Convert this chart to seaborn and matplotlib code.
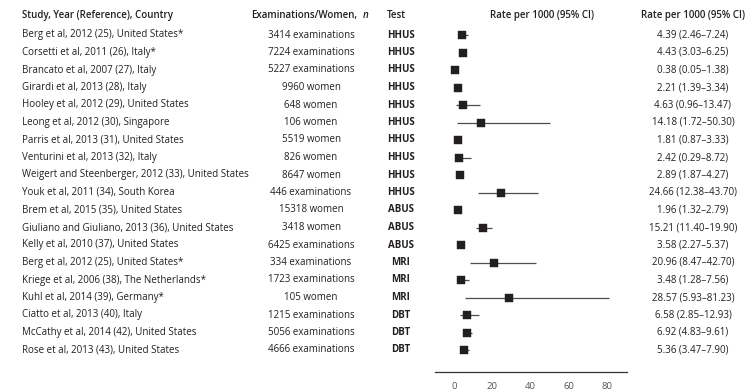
import matplotlib
matplotlib.use("Agg")
import matplotlib.pyplot as plt
import matplotlib.transforms as mtransforms
import numpy as np
import pandas as pd
import seaborn as sns

studies = [
    "Berg et al, 2012 (25), United States*",
    "Corsetti et al, 2011 (26), Italy*",
    "Brancato et al, 2007 (27), Italy",
    "Girardi et al, 2013 (28), Italy",
    "Hooley et al, 2012 (29), United States",
    "Leong et al, 2012 (30), Singapore",
    "Parris et al, 2013 (31), United States",
    "Venturini et al, 2013 (32), Italy",
    "Weigert and Steenberger, 2012 (33), United States",
    "Youk et al, 2011 (34), South Korea",
    "Brem et al, 2015 (35), United States",
    "Giuliano and Giuliano, 2013 (36), United States",
    "Kelly et al, 2010 (37), United States",
    "Berg et al, 2012 (25), United States*",
    "Kriege et al, 2006 (38), The Netherlands*",
    "Kuhl et al, 2014 (39), Germany*",
    "Ciatto et al, 2013 (40), Italy",
    "McCathy et al, 2014 (42), United States",
    "Rose et al, 2013 (43), United States",
]
counts = [
    "3414 examinations", "7224 examinations", "5227 examinations", "9960 women",
    "648 women", "106 women", "5519 women", "826 women", "8647 women",
    "446 examinations", "15318 women", "3418 women", "6425 examinations",
    "334 examinations", "1723 examinations", "105 women", "1215 examinations",
    "5056 examinations", "4666 examinations",
]
tests = ["HHUS"] * 10 + ["ABUS"] * 3 + ["MRI"] * 3 + ["DBT"] * 3
rate = [4.39, 4.43, 0.38, 2.21, 4.63, 14.18, 1.81, 2.42, 2.89, 24.66,
        1.96, 15.21, 3.58, 20.96, 3.48, 28.57, 6.58, 6.92, 5.36]
ci_low = [2.46, 3.03, 0.05, 1.39, 0.96, 1.72, 0.87, 0.29, 1.87, 12.38,
          1.32, 11.40, 2.27, 8.47, 1.28, 5.93, 2.85, 4.83, 3.47]
ci_high = [7.24, 6.25, 1.38, 3.34, 13.47, 50.30, 3.33, 8.72, 4.27, 43.70,
           2.79, 19.90, 5.37, 42.70, 7.56, 81.23, 12.93, 9.61, 7.90]
x_ticks = [0, 20, 40, 60, 80]

df = pd.DataFrame({"study": studies, "n": counts, "test": tests,
                   "rate": rate, "lo": ci_low, "hi": ci_high})
df["row"] = np.arange(len(df))

sns.set_style("white")
plt.rcParams["font.family"] = ["Open Sans", "DejaVu Sans"]
ink = "#231f20"

fig = plt.figure(figsize=(7.5, 3.92), dpi=100)
ax = fig.add_axes([435 / 750, 20 / 392, 192 / 750, 372 / 392])

# CI lines and point estimates
ax.hlines(df["row"], df["lo"], df["hi"], color="#4d4d4d", lw=0.9, zorder=1)
sns.scatterplot(data=df, x="rate", y="row", marker="s", s=40, color=ink,
                edgecolor=ink, linewidth=0.3, ax=ax, zorder=2, legend=False)

ax.set_xlim(-10, 90.5)
ax.set_ylim((372 - 35) / 17.5, -35 / 17.5)
ax.set_xticks(x_ticks)
ax.set_yticks([])
ax.set_xlabel("")
ax.set_ylabel("")
for side in ["top", "right", "left"]:
    ax.spines[side].set_visible(False)
ax.spines["bottom"].set_color("#333333")
ax.spines["bottom"].set_linewidth(0.9)
ax.tick_params(axis="x", direction="out", length=4, width=0.8, colors="#333333",
               labelsize=6.8, labelcolor="#555555", pad=3)

# text columns: figure x, data y
trans = mtransforms.blended_transform_factory(fig.transFigure, ax.transData)
head_y = -1.1
fs = 7.0
hdr = dict(transform=trans, fontsize=fs, fontweight="semibold", color=ink, va="center")
ax.text(22 / 750, head_y, "Study, Year (Reference), Country", ha="left", **hdr)
ax.text(304 / 750, head_y, "Examinations/Women,", ha="center", **hdr)
ax.text(363 / 750, head_y, "n", ha="left", fontstyle="italic", **hdr)
ax.text(387 / 750, head_y, "Test", ha="left", **hdr)
ax.text(542 / 750, head_y, "Rate per 1000 (95% CI)", ha="center", **hdr)
ax.text(693 / 750, head_y, "Rate per 1000 (95% CI)", ha="center", **hdr)

body = dict(transform=trans, fontsize=fs, color=ink, va="center")
for _, r in df.iterrows():
    y = r["row"]
    ax.text(22 / 750, y, r["study"], ha="left", **body)
    ax.text(311 / 750, y, r["n"], ha="center", **body)
    ax.text(401 / 750, y, r["test"], ha="center", fontweight="bold", **body)
    ax.text(693 / 750, y, f"{r['rate']:.2f} ({r['lo']:.2f}\u2013{r['hi']:.2f})",
            ha="center", **body)

fig.savefig("out.png", dpi=100)
